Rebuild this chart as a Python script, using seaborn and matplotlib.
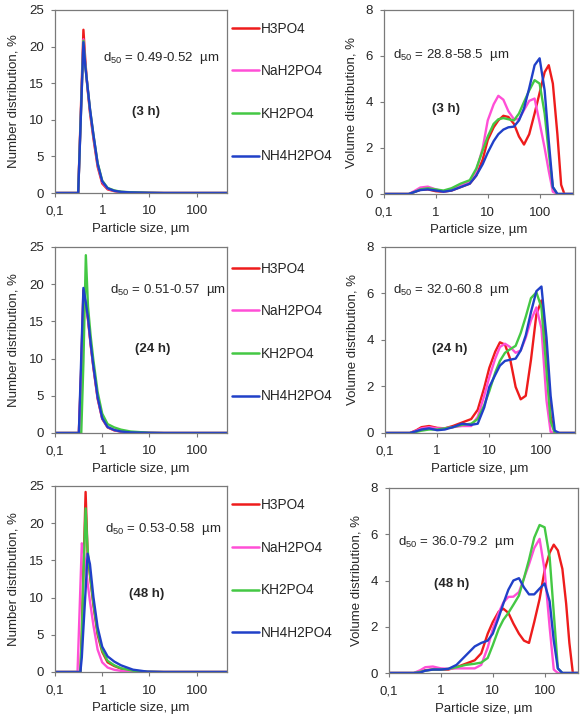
import numpy as np
import pandas as pd
import matplotlib
matplotlib.use("Agg")
import matplotlib.pyplot as plt
from matplotlib.lines import Line2D
import seaborn as sns

# ---------------- data ----------------
series = ["H3PO4", "NaH2PO4", "KH2PO4", "NH4H2PO4"]
colors = ["#ee1c1c", "#ff4fd6", "#44c844", "#2040c8"]

x_ticks = [0.1, 1, 10, 100]
x_tick_labels = ["0,1", "1", "10", "100"]
num_yticks = [0, 5, 10, 15, 20, 25]
vol_yticks = [0, 2, 4, 6, 8]

# Number distribution, 3 h
n3_x = [0.1, 0.31, 0.40, 0.44, 0.48, 0.55, 0.65, 0.8, 1.0, 1.3, 1.8, 2.5, 4, 10, 20, 440]
n3_h3po4 = [0, 0, 22.3, 18.0, 14.8, 11.0, 7.5, 3.6, 1.3, 0.5, 0.25, 0.12, 0.06, 0.02, 0, 0]
n3_nah2po4 = [0, 0, 21.0, 17.5, 15.0, 11.3, 7.8, 3.9, 1.5, 0.6, 0.3, 0.15, 0.08, 0.02, 0, 0]
n3_kh2po4 = [0, 0, 20.8, 17.3, 15.0, 11.5, 8.0, 4.1, 1.7, 0.7, 0.35, 0.18, 0.1, 0.03, 0, 0]
n3_nh4h2po4 = [0, 0, 20.6, 17.2, 15.0, 11.5, 8.0, 4.0, 1.6, 0.65, 0.3, 0.15, 0.08, 0.02, 0, 0]

# Number distribution, 24 h
n24_x = [0.1, 0.32, 0.36, 0.40, 0.45, 0.50, 0.57, 0.65, 0.8, 1.0, 1.3, 1.8, 2.5, 4, 10, 20, 440]
n24_h3po4 = [0, 0, 9.0, 19.2, 17.2, 15.2, 11.8, 8.8, 4.6, 1.9, 0.75, 0.35, 0.18, 0.07, 0.02, 0, 0]
n24_nah2po4 = [0, 0, 8.0, 18.5, 17.5, 15.5, 12.0, 9.0, 4.8, 2.0, 0.8, 0.4, 0.2, 0.08, 0.02, 0, 0]
n24_kh2po4 = [0, 0, 0, 9.5, 23.9, 17.0, 13.0, 9.8, 5.5, 2.6, 1.2, 0.75, 0.45, 0.2, 0.03, 0, 0]
n24_nh4h2po4 = [0, 0, 10.3, 19.5, 17.5, 15.5, 12.0, 9.0, 4.8, 2.0, 0.8, 0.4, 0.2, 0.08, 0.02, 0, 0]

# Number distribution, 48 h
n48_x = [0.1, 0.30, 0.345, 0.37, 0.40, 0.445, 0.49, 0.55, 0.65, 0.8, 1.0, 1.3, 1.8, 2.5, 4.5, 9, 20, 440]
n48_h3po4 = [0, 0, 0, 5.6, 13.5, 24.2, 16.0, 13.0, 9.0, 5.0, 2.7, 1.3, 0.8, 0.45, 0.15, 0.03, 0, 0]
n48_nah2po4 = [0, 0, 11.5, 17.3, 16.5, 14.5, 12.0, 9.5, 6.3, 3.0, 1.3, 0.6, 0.3, 0.15, 0.05, 0, 0, 0]
n48_kh2po4 = [0, 0, 0, 5.0, 13.0, 22.0, 16.5, 13.2, 9.3, 5.3, 2.9, 1.5, 0.9, 0.5, 0.17, 0.03, 0, 0]
n48_nh4h2po4 = [0, 0, 0, 2.0, 5.9, 11.0, 15.9, 14.5, 10.1, 6.0, 3.4, 2.1, 1.4, 0.9, 0.31, 0.05, 0, 0]

# Volume distribution grid (µm)
v_x = [0.1, 0.3, 0.4, 0.5, 0.7, 1.0, 1.4, 2.0, 3.0, 4.5, 6.0, 8.0, 10, 13, 16, 20, 25, 32,
       40, 50, 63, 80, 100, 125, 150, 180, 220, 260, 300, 350, 440]

v3_h3po4 = [0, 0, 0.1, 0.18, 0.2, 0.12, 0.1, 0.15, 0.3, 0.45, 0.8, 1.5, 2.35, 2.9, 3.2, 3.4, 3.35, 3.05,
            2.5, 2.15, 2.6, 3.5, 4.4, 5.3, 5.6, 4.8, 2.6, 0.4, 0, 0, 0]
v3_nah2po4 = [0, 0, 0.15, 0.28, 0.32, 0.2, 0.1, 0.2, 0.35, 0.55, 1.0, 2.0, 3.2, 3.9, 4.27, 4.1, 3.6, 3.25,
              3.25, 3.65, 4.05, 4.15, 3.1, 2.0, 1.0, 0.1, 0, 0, 0, 0, 0]
v3_kh2po4 = [0, 0, 0.1, 0.2, 0.25, 0.2, 0.15, 0.25, 0.45, 0.6, 1.1, 1.9, 2.5, 3.05, 3.25, 3.3, 3.25, 3.2,
             3.5, 4.0, 4.5, 4.95, 4.8, 3.5, 1.8, 0.3, 0, 0, 0, 0, 0]
v3_nh4h2po4 = [0, 0, 0.1, 0.17, 0.2, 0.15, 0.1, 0.15, 0.3, 0.45, 0.8, 1.3, 1.8, 2.3, 2.6, 2.8, 2.9, 2.93,
               3.2, 3.72, 4.6, 5.6, 5.9, 4.5, 2.3, 0.3, 0, 0, 0, 0, 0]

v24_h3po4 = [0, 0, 0.12, 0.25, 0.3, 0.22, 0.2, 0.3, 0.45, 0.6, 1.0, 1.95, 2.8, 3.5, 3.9, 3.8, 3.2, 1.98,
             1.45, 1.6, 3.15, 5.1, 5.7, 3.2, 0.7, 0, 0, 0, 0, 0, 0]
v24_nah2po4 = [0, 0, 0.1, 0.2, 0.25, 0.2, 0.2, 0.25, 0.3, 0.3, 0.7, 1.6, 2.4, 3.2, 3.7, 3.84, 3.7, 3.45,
               3.55, 4.1, 4.85, 5.4, 4.5, 1.4, 0.05, 0, 0, 0, 0, 0, 0]
v24_kh2po4 = [0, 0, 0.05, 0.1, 0.15, 0.15, 0.2, 0.25, 0.35, 0.4, 0.6, 1.2, 1.8, 2.6, 3.1, 3.45, 3.6, 3.75,
              4.3, 5.0, 5.8, 6.05, 5.4, 2.7, 0.5, 0, 0, 0, 0, 0, 0]
v24_nh4h2po4 = [0, 0, 0.08, 0.15, 0.2, 0.12, 0.15, 0.25, 0.4, 0.35, 0.4, 1.1, 1.98, 2.5, 2.9, 3.1, 3.15, 3.2,
                3.55, 4.2, 5.2, 6.1, 6.3, 4.1, 1.6, 0.1, 0, 0, 0, 0, 0]

v48_h3po4 = [0, 0, 0.05, 0.12, 0.15, 0.15, 0.15, 0.25, 0.4, 0.55, 0.85, 1.7, 2.2, 2.65, 2.78, 2.6, 2.14, 1.7,
             1.4, 1.3, 2.2, 3.2, 4.44, 5.2, 5.55, 5.3, 4.5, 3.0, 1.3, 0, 0]
v48_nah2po4 = [0, 0, 0.12, 0.25, 0.28, 0.2, 0.18, 0.2, 0.2, 0.2, 0.35, 1.1, 1.9, 2.6, 3.05, 3.29, 3.3, 3.5,
               4.1, 4.7, 5.4, 5.8, 4.44, 1.98, 0.15, 0, 0, 0, 0, 0, 0]
v48_kh2po4 = [0, 0, 0.05, 0.1, 0.15, 0.15, 0.18, 0.25, 0.35, 0.4, 0.45, 0.65, 1.2, 1.9, 2.3, 2.6, 2.95, 3.35,
              4.1, 4.9, 5.85, 6.4, 6.3, 5.0, 2.6, 0.2, 0, 0, 0, 0, 0]
v48_nh4h2po4 = [0, 0, 0.02, 0.1, 0.15, 0.15, 0.18, 0.35, 0.75, 1.15, 1.3, 1.4, 1.7, 2.4, 3.0, 3.6, 4.0, 4.1,
                3.7, 3.4, 3.4, 3.65, 3.87, 3.1, 1.4, 0.2, 0, 0, 0, 0, 0]

time_labels = ["(3 h)", "(24 h)", "(48 h)"]
num_d50 = ["0.49-0.52", "0.51-0.57", "0.53-0.58"]
vol_d50 = ["28.8-58.5", "32.0-60.8", "36.0-79.2"]

# ---------------- style ----------------
sns.set_theme(style="ticks")
plt.rcParams["font.family"] = ["Liberation Sans", "DejaVu Sans"]
plt.rcParams["mathtext.fontset"] = "custom"
plt.rcParams["mathtext.rm"] = "Liberation Sans"
plt.rcParams["mathtext.it"] = "Liberation Sans"
FS = 9.5
LEG_FS = 9.8
spine_col = "#7a7a7a"

fig = plt.figure(figsize=(5.83, 7.14), dpi=100)
W, H = 583, 714


def ax_at(l, t, r, b):
    return fig.add_axes([l / W, 1 - b / H, (r - l) / W, (b - t) / H])


def long_df(x, ys):
    frames = []
    for name, y in zip(series, ys):
        frames.append(pd.DataFrame({"size": x, "value": y, "series": name}))
    return pd.concat(frames, ignore_index=True)


num_panels = [
    (n3_x, [n3_h3po4, n3_nah2po4, n3_kh2po4, n3_nh4h2po4]),
    (n24_x, [n24_h3po4, n24_nah2po4, n24_kh2po4, n24_nh4h2po4]),
    (n48_x, [n48_h3po4, n48_nah2po4, n48_kh2po4, n48_nh4h2po4]),
]
vol_panels = [
    (v_x, [v3_h3po4, v3_nah2po4, v3_kh2po4, v3_nh4h2po4]),
    (v_x, [v24_h3po4, v24_nah2po4, v24_kh2po4, v24_nh4h2po4]),
    (v_x, [v48_h3po4, v48_nah2po4, v48_kh2po4, v48_nh4h2po4]),
]

left_boxes = [(55, 10, 227, 193), (55, 247, 227, 433), (55, 486, 227, 672)]
right_boxes = [(384, 10, 573, 194), (385, 247, 575, 433), (389, 488, 578, 673)]
legend_mid_y = [92.5, 332.5, 569]
num_d50_pos = [(0.28, 0.74), (0.32, 0.77), (0.29, 0.77)]
num_t_pos = [(0.53, 0.44), (0.57, 0.45), (0.53, 0.42)]
vol_d50_pos = [(0.05, 0.755), (0.04, 0.77), (0.05, 0.71)]
vol_t_pos = [(0.33, 0.46), (0.34, 0.45), (0.33, 0.48)]

palette = dict(zip(series, colors))


def style_axis(ax, yticks, ylim):
    ax.set_xscale("log")
    ax.set_xlim(0.1, 440)
    ax.set_ylim(*ylim)
    ax.set_xticks(x_ticks)
    ax.set_xticklabels(x_tick_labels)
    ax.xaxis.set_minor_locator(matplotlib.ticker.NullLocator())
    ax.set_yticks(yticks)
    ax.tick_params(axis="both", labelsize=FS, length=3, width=0.8, color=spine_col,
                   direction="out")
    ax.tick_params(axis="x", pad=6)
    ax.tick_params(axis="y", pad=5)
    for s in ax.spines.values():
        s.set_visible(True)
        s.set_color(spine_col)
        s.set_linewidth(0.9)
    ax.set_xlabel("Particle size, µm", fontsize=FS, labelpad=4)


for i in range(3):
    # number distribution
    ax = ax_at(*left_boxes[i])
    x, ys = num_panels[i]
    df = long_df(x, ys)
    sns.lineplot(data=df, x="size", y="value", hue="series", palette=palette,
                 hue_order=series, estimator=None, sort=False, linewidth=1.7,
                 legend=False, ax=ax)
    style_axis(ax, num_yticks, (0, 25))
    ax.set_ylabel("Number distribution, %", fontsize=FS, labelpad=6.5)
    ax.text(*num_d50_pos[i], r"d$_{50}$ = " + num_d50[i] + "  µm", transform=ax.transAxes,
            fontsize=FS, va="center", ha="left")
    ax.text(*num_t_pos[i], time_labels[i], transform=ax.transAxes, fontsize=FS,
            fontweight="bold", va="center", ha="center")

    handles = [Line2D([], [], color=c, lw=1.8) for c in colors]
    ax.legend(handles, series, loc="center left",
              bbox_to_anchor=(232 / W, 1 - legend_mid_y[i] / H),
              bbox_transform=fig.transFigure, frameon=False, fontsize=LEG_FS,
              handlelength=2.0, handletextpad=0.15, labelspacing=2.1,
              borderpad=0, borderaxespad=0)

    # volume distribution
    ax2 = ax_at(*right_boxes[i])
    x, ys = vol_panels[i]
    df = long_df(x, ys)
    sns.lineplot(data=df, x="size", y="value", hue="series", palette=palette,
                 hue_order=series, estimator=None, sort=False, linewidth=1.7,
                 legend=False, ax=ax2)
    style_axis(ax2, vol_yticks, (0, 8))
    ax2.set_ylabel("Volume distribution, %", fontsize=FS, labelpad=6)
    ax2.text(*vol_d50_pos[i], r"d$_{50}$ = " + vol_d50[i] + "  µm", transform=ax2.transAxes,
             fontsize=FS, va="center", ha="left")
    ax2.text(*vol_t_pos[i], time_labels[i], transform=ax2.transAxes, fontsize=FS,
             fontweight="bold", va="center", ha="center")

fig.savefig("out.png", dpi=100, facecolor="white")
